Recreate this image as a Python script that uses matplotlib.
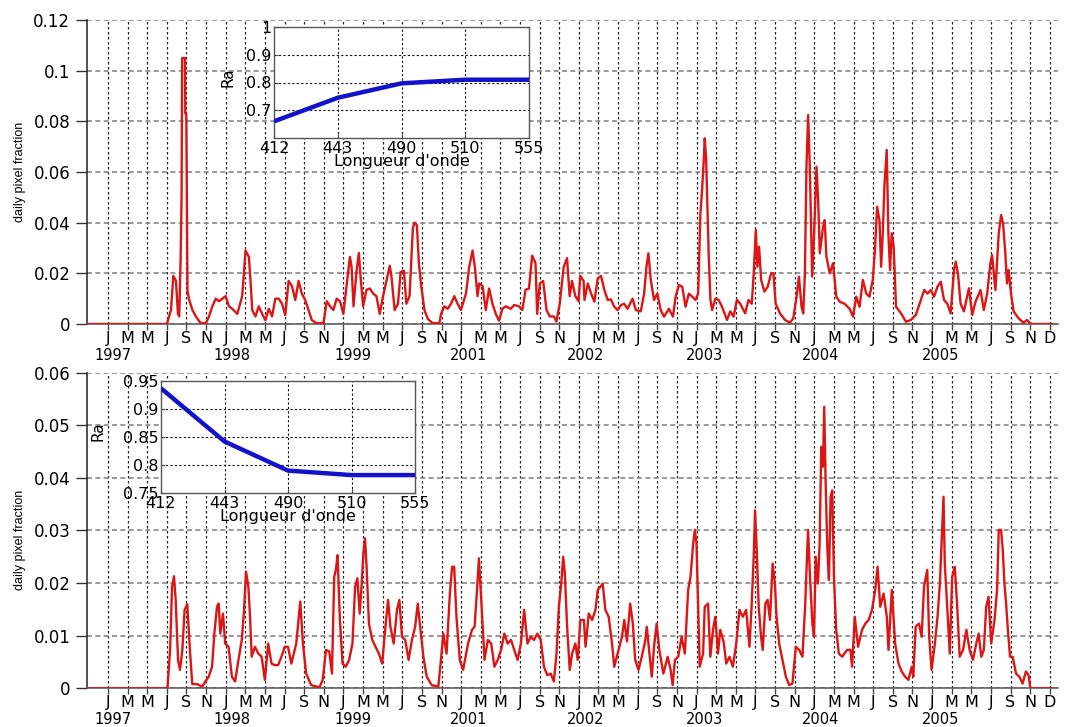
import matplotlib
matplotlib.use("Agg")
import matplotlib.pyplot as plt
from matplotlib import font_manager
from matplotlib.transforms import blended_transform_factory

# ---------------- data (months since Jan 1997) ----------------
TOP_MONTH = [-2.2, 6.0, 6.42, 6.66, 6.93, 7.13, 7.26, 7.40, 7.50, 7.56, 7.85, 7.88, 7.98, 8.02, 8.1, 8.28, 8.61, 8.95, 9.46, 9.97,
             10.30, 10.64, 10.98, 11.32, 11.66, 11.99, 12.33, 12.67, 13.18, 13.68, 14.02, 14.36, 14.53, 14.70, 15.03, 15.37, 15.71,
             16.05, 16.39, 16.72, 17.06, 17.40, 17.74, 18.07, 18.41, 18.75, 19.09, 19.43, 19.76, 20.10, 20.44, 20.78, 21.28, 21.96,
             22.30, 22.64, 22.97, 23.31, 23.65, 23.99, 24.32, 24.66, 24.83, 25.03, 25.34, 25.57, 25.78, 26.01, 26.35, 26.69, 27.03,
             27.36, 27.70, 28.04, 28.38, 28.72, 28.89, 29.22, 29.56, 29.83, 30.17, 30.41, 30.74, 31.08, 31.25, 31.49, 31.69, 31.93,
             32.26, 32.60, 33.11, 33.78, 33.95, 34.29, 34.63, 34.97, 35.30, 35.64, 35.98, 36.49, 36.82, 37.16, 37.40, 37.67, 37.84,
             38.18, 38.51, 38.85, 39.19, 39.53, 39.86, 40.20, 40.54, 41.05, 41.39, 41.89, 42.23, 42.57, 42.91, 43.24, 43.58, 43.75,
             44.02, 44.36, 44.70, 45.03, 45.44, 45.71, 46.05, 46.45, 46.79, 47.06, 47.30, 47.64, 47.97, 48.14, 48.48,
             48.57, 48.91, 49.25, 49.58, 49.92, 50.26, 50.6, 50.94, 51.27, 51.61, 51.95, 52.29, 52.62, 52.96, 53.47, 53.81, 54.31,
             54.65, 54.89, 55.09, 55.33, 55.66, 56.0, 56.34, 56.68, 57.18, 57.59, 57.86, 58.2, 58.54, 58.87, 59.21, 59.55, 59.89,
             60.16, 60.39, 60.56, 60.73, 60.83, 60.97, 61.1, 61.24, 61.41, 61.58, 61.91, 62.25, 62.59, 63.1, 63.43, 63.77, 64.11,
             64.45, 64.95, 65.29, 65.63, 65.8, 66.04, 66.2, 66.37, 66.58, 66.91, 67.25, 67.59, 67.83, 68.06, 68.5, 69.01, 69.52,
             69.85, 70.19, 70.43, 70.7, 70.87, 71.04, 71.2, 71.37, 71.54, 71.78, 71.98, 72.22, 72.39, 72.56, 72.89, 73.06, 73.23,
             73.57, 73.91, 74.24, 74.58, 75.09, 75.6, 75.94, 76.27, 76.61, 76.95, 77.29, 77.62, 77.96, 78.2, 78.4, 78.64, 78.81,
             78.98, 79.14, 79.38, 79.55, 79.72, 79.89, 80.09, 80.33, 80.84, 81.34, 81.85, 82.35, 82.86, 83.2, 83.54, 83.87, 84.21,
             84.55, 84.89, 85.22, 85.56, 85.9, 86.24, 86.41, 86.64, 86.91, 87.25, 87.76, 88.1, 88.43, 88.94, 89.28, 89.62, 89.95,
             90.12, 90.46, 90.8, 91.04, 91.24, 91.47, 91.64, 91.81, 92.05, 92.32, 92.83, 93.33, 93.67, 94.01, 94.18, 96.2]
TOP_VALUE = [0, 0, 0.0055, 0.019, 0.017, 0.004, 0.003, 0.025, 0.05, 0.105, 0.105, 0.083, 0.083, 0.063, 0.013, 0.0095, 0.0055, 0.003, 0.0003, 0.0003,
             0.003, 0.007, 0.010, 0.009, 0.010, 0.011, 0.007, 0.006, 0.004, 0.011, 0.029, 0.0265, 0.017, 0.0055, 0.003, 0.007, 0.004,
             0.0015, 0.006, 0.003, 0.010, 0.010, 0.008, 0.0035, 0.017, 0.015, 0.0095, 0.017, 0.012, 0.0095, 0.0055, 0.0015, 0.0003, 0.0003,
             0.009, 0.007, 0.0055, 0.010, 0.009, 0.004, 0.015, 0.0265, 0.0225, 0.007, 0.021, 0.028, 0.017, 0.007, 0.0135, 0.014, 0.012,
             0.011, 0.004, 0.011, 0.017, 0.023, 0.019, 0.0055, 0.008, 0.0205, 0.021, 0.008, 0.011, 0.038, 0.040, 0.039, 0.024, 0.015,
             0.0055, 0.002, 0.0003, 0.0003, 0.004, 0.007, 0.006, 0.008, 0.011, 0.008, 0.0055, 0.012, 0.0225, 0.029, 0.0225, 0.011, 0.016,
             0.015, 0.0055, 0.014, 0.008, 0.004, 0.0013, 0.006, 0.007, 0.006, 0.0075, 0.007, 0.0055, 0.0135, 0.014, 0.027, 0.024, 0.004,
             0.016, 0.017, 0.0055, 0.003, 0.003, 0.001, 0.008, 0.0225, 0.026, 0.011, 0.017, 0.011, 0.009, 0.019, 0.017,
             0.0095, 0.016, 0.012, 0.0088, 0.018, 0.019, 0.0134, 0.0095, 0.0097, 0.0068, 0.0055, 0.0075, 0.008, 0.006, 0.010, 0.0055, 0.005,
             0.012, 0.0226, 0.0279, 0.0174, 0.0095, 0.012, 0.0055, 0.0029, 0.006, 0.0029, 0.0108, 0.0154, 0.0147, 0.0068, 0.012, 0.0108, 0.0095,
             0.012, 0.0437, 0.0529, 0.0647, 0.0733, 0.0655, 0.0463, 0.0266, 0.0095, 0.0055, 0.010, 0.0095, 0.0068, 0.0016, 0.005, 0.0029, 0.0095,
             0.008, 0.0042, 0.0095, 0.008, 0.0187, 0.0371, 0.0226, 0.0305, 0.0174, 0.0128, 0.0147, 0.020, 0.020, 0.008, 0.0042, 0.0016, 0.0005,
             0.0022, 0.0108, 0.0187, 0.0068, 0.0042, 0.020, 0.0621, 0.0825, 0.0621, 0.0187, 0.0358, 0.0621, 0.049, 0.0279, 0.0384, 0.041, 0.0266,
             0.020, 0.024, 0.0108, 0.0088, 0.008, 0.006, 0.0029, 0.0108, 0.0068, 0.0174, 0.012, 0.0108, 0.0174, 0.0305, 0.0463, 0.041, 0.0226,
             0.0358, 0.0542, 0.0687, 0.0358, 0.0213, 0.0358, 0.0305, 0.0068, 0.0042, 0.0009, 0.0016, 0.0036, 0.0095, 0.0134, 0.012, 0.0134, 0.0108,
             0.0147, 0.0167, 0.0095, 0.008, 0.0042, 0.0213, 0.0246, 0.020, 0.008, 0.005, 0.0141, 0.0036, 0.0088, 0.0134, 0.0055, 0.012, 0.024,
             0.0272, 0.0134, 0.0358, 0.043, 0.0397, 0.0279, 0.016, 0.0213, 0.012, 0.005, 0.0022, 0.0005, 0.0016, 0.0003, 0, 0]

BOT_MONTH = [-2.2, 6.06, 6.33, 6.53, 6.73, 6.9, 7.14, 7.34, 7.58, 7.81, 8.08, 8.35, 8.59, 9.09, 9.6, 9.93, 10.27, 10.61, 10.84, 11.11,
             11.28, 11.45, 11.72, 11.95, 12.29, 12.63, 12.96, 13.3, 13.64, 13.87, 14.07, 14.31, 14.48, 14.65, 14.98, 15.32, 15.66, 15.99,
             16.33, 16.67, 17.0, 17.34, 17.68, 18.01, 18.35, 18.69, 19.19, 19.6, 19.87, 20.2, 20.71, 21.55, 21.89, 22.22, 22.56, 22.83,
             23.06, 23.23, 23.4, 23.64, 23.91, 24.24, 24.58, 24.92, 25.19, 25.42, 25.66, 25.86, 26.03, 26.2, 26.36, 26.6, 26.94, 27.27,
             27.61, 27.95, 28.28, 28.55, 28.79, 29.12, 29.46, 29.7, 29.97, 30.3, 30.64, 30.98, 31.31, 31.58, 31.82, 32.15, 32.49, 33.0,
             33.67, 33.94, 34.18, 34.51, 34.85, 35.08, 35.29, 35.52, 35.86, 36.2, 36.7, 37.1, 37.37, 37.64, 37.81, 38.05, 38.38, 38.72,
             39.06, 39.39, 39.73, 40.07, 40.4, 40.74, 41.08, 41.41, 41.75, 42.09, 42.42, 42.76, 43.1, 43.43, 43.77, 44.11, 44.44, 44.78,
             45.12, 45.45, 45.72, 45.96, 46.2, 46.4, 46.57, 46.8, 47.07, 47.31, 47.64, 47.88, 48.15,
             48.51, 48.68, 49.01, 49.35, 49.69, 49.93, 50.2, 50.43, 50.7, 51.04, 51.38, 51.61, 52.05, 52.39, 52.63, 52.9, 53.23, 53.5,
             53.74, 54.08, 54.41, 54.75, 54.92, 55.19, 55.43, 55.66, 55.93, 56.2, 56.61, 57.05, 57.35, 57.56, 57.79, 58.13, 58.47, 58.8,
             59.14, 59.38, 59.65, 59.82, 59.99, 60.15, 60.32, 60.66, 60.83, 61.17, 61.4, 61.67, 61.91, 62.18, 62.41, 62.75, 63.02, 63.36,
             63.7, 64.04, 64.37, 64.71, 65.05, 65.39, 65.62, 65.82, 65.96, 66.13, 66.33, 66.57, 66.74, 67.01, 67.24, 67.48, 67.75, 67.98,
             68.15, 68.42, 68.76, 69.1, 69.44, 69.77, 70.11, 70.45, 70.79, 71.06, 71.36, 71.56, 71.8, 71.97, 72.14, 72.37, 72.54, 72.71,
             72.88, 73.01, 73.15, 73.32, 73.49, 73.66, 73.83, 74.0, 74.23, 74.5, 74.84, 75.34, 75.68, 75.85, 76.12, 76.46, 76.86, 77.2,
             77.54, 77.88, 78.21, 78.45, 78.72, 79.06, 79.39, 79.56, 79.9, 80.24, 80.58, 80.91, 81.25, 81.59, 81.93, 82.09, 82.33, 82.67,
             82.94, 83.18, 83.51, 83.71, 83.95, 84.29, 84.56, 84.8, 85.03, 85.17, 85.3, 85.54, 85.81, 86.05, 86.32, 86.55, 86.82, 87.16,
             87.5, 87.83, 88.17, 88.51, 88.75, 89.02, 89.28, 89.52, 89.76, 90.03, 90.37, 90.63, 90.8, 91.04, 91.21, 91.38, 91.55, 91.71,
             91.95, 92.22, 92.56, 92.9, 93.23, 93.57, 93.84, 94.01, 94.05, 96.2]
BOT_VALUE = [0, 0, 0.0073, 0.0193, 0.0213, 0.0168, 0.0054, 0.0035, 0.0073, 0.0149, 0.016, 0.0073, 0.0008, 0.0008, 0.0003, 0.0013, 0.0022, 0.0041, 0.0104, 0.0155,
             0.0161, 0.0104, 0.0142, 0.0085, 0.0079, 0.0022, 0.0013, 0.0054, 0.0092, 0.0149, 0.0222, 0.0193, 0.0136, 0.006, 0.0079, 0.0066, 0.006, 0.0016,
             0.0085, 0.0047, 0.0044, 0.0044, 0.006, 0.0079, 0.0079, 0.0047, 0.0085, 0.0165, 0.0085, 0.0028, 0.0006, 0.0002, 0.0016, 0.0073, 0.007, 0.0028,
             0.0212, 0.0225, 0.0253, 0.013, 0.0047, 0.0041, 0.0054, 0.0085, 0.0193, 0.0209, 0.0142, 0.0199, 0.0256, 0.0285, 0.0231, 0.0123, 0.0092, 0.0079,
             0.0066, 0.0047, 0.0117, 0.0168, 0.0117, 0.0085, 0.0149, 0.0168, 0.0098, 0.0092, 0.0054, 0.0092, 0.0117, 0.0161, 0.0117, 0.006, 0.0022, 0.0006,
             0.0003, 0.0054, 0.0104, 0.0066, 0.018, 0.0231, 0.0231, 0.0136, 0.0054, 0.0035, 0.0085, 0.0111, 0.0117, 0.0193, 0.0247, 0.0168, 0.0054, 0.0092,
             0.0085, 0.0041, 0.0054, 0.0073, 0.0104, 0.0085, 0.0092, 0.0073, 0.0054, 0.0085, 0.0149, 0.0085, 0.0098, 0.0092, 0.0104, 0.0092, 0.0041, 0.0025,
             0.0028, 0.0013, 0.0066, 0.0155, 0.0199, 0.025, 0.0218, 0.0117, 0.0035, 0.0066, 0.0085, 0.0054, 0.013,
             0.013, 0.0079, 0.0142, 0.013, 0.0149, 0.0187, 0.0193, 0.0199, 0.0149, 0.0136, 0.0085, 0.0041, 0.0073, 0.0098, 0.013, 0.0089, 0.0161, 0.0123,
             0.0054, 0.0035, 0.006, 0.0089, 0.0117, 0.0066, 0.0022, 0.0079, 0.0123, 0.0073, 0.0028, 0.006, 0.0035, 0.0006, 0.0054, 0.006, 0.0098, 0.0066,
             0.0187, 0.0212, 0.0275, 0.0301, 0.0275, 0.0161, 0.0041, 0.0066, 0.0155, 0.0161, 0.006, 0.0111, 0.0136, 0.0066, 0.0111, 0.0089, 0.0047, 0.006,
             0.0041, 0.0085, 0.0149, 0.0136, 0.0149, 0.0079, 0.0161, 0.025, 0.0338, 0.0263, 0.0155, 0.0098, 0.0073, 0.0161, 0.0168, 0.013, 0.0237, 0.0199,
             0.0136, 0.0085, 0.0054, 0.0022, 0.0006, 0.0009, 0.0079, 0.0073, 0.006, 0.0155, 0.0301, 0.0212, 0.0123, 0.0098, 0.025, 0.0199, 0.0275, 0.0459,
             0.0421, 0.0535, 0.0395, 0.0269, 0.0206, 0.0364, 0.0376, 0.0212, 0.0111, 0.0066, 0.006, 0.0073, 0.0073, 0.0041, 0.0136, 0.0079, 0.0111, 0.0123,
             0.013, 0.0149, 0.0187, 0.0231, 0.0155, 0.018, 0.0136, 0.0073, 0.0187, 0.0085, 0.0047, 0.0032, 0.0022, 0.0016, 0.0041, 0.0022, 0.0117, 0.0123,
             0.0098, 0.0193, 0.0225, 0.0098, 0.0035, 0.0085, 0.0136, 0.0199, 0.0301, 0.0364, 0.0237, 0.0155, 0.0066, 0.0212, 0.0231, 0.0161, 0.006, 0.0073,
             0.0111, 0.0073, 0.0054, 0.0085, 0.0104, 0.006, 0.0073, 0.0155, 0.0174, 0.0085, 0.013, 0.0187, 0.0301, 0.0301, 0.0263, 0.0199, 0.0161, 0.0117,
             0.006, 0.006, 0.0028, 0.0022, 0.0009, 0.0032, 0.0025, 0.0001, 0, 0]

MONTH_TICKS = list(range(0, 97, 2))
MONTH_LABELS = ["J", "M", "M", "J", "S", "N"] * 8 + ["D"]
YEAR_LABELS = ["1997", "1998", "1999", "2001", "2002", "2003", "2004", "2005"]
YEAR_POS = [0.5, 12.6, 25.0, 36.8, 48.7, 60.8, 72.6, 84.9]

TOP_YTICKS = [0, 0.02, 0.04, 0.06, 0.08, 0.1, 0.12]
TOP_YLABELS = ["0", "0.02", "0.04", "0.06", "0.08", "0.1", "0.12"]
BOT_YTICKS = [0, 0.01, 0.02, 0.03, 0.04, 0.05, 0.06]
BOT_YLABELS = ["0", "0.01", "0.02", "0.03", "0.04", "0.05", "0.06"]

WAVELENGTHS = ["412", "443", "490", "510", "555"]
RA_TOP = [0.66, 0.745, 0.797, 0.81, 0.81]
RA_BOT = [0.937, 0.842, 0.79, 0.782, 0.782]

# ---------------- style ----------------
names = {f.name for f in font_manager.fontManager.ttflist}
if "Liberation Sans Narrow" in names:
    YLAB_FONT, YLAB_SIZE = "Liberation Sans Narrow", 10.5
else:
    YLAB_FONT, YLAB_SIZE = "Liberation Sans", 9
plt.rcParams["font.family"] = ["DejaVu Sans"]

RED = "#dd1515"
BLUE = "#1212cc"
W, H = 1065, 727

fig = plt.figure(figsize=(W / 100, H / 100), dpi=100)


def frac(left, top, right, bottom):
    return [left / W, 1 - bottom / H, (right - left) / W, (bottom - top) / H]


def main_axes(rect, months, values, yticks, ylabels, ymax, ylab_y):
    ax = fig.add_axes(rect)
    ax.plot(months, values, color=RED, lw=1.7, zorder=3)
    ax.set_xlim(-2.14, 96.84)
    ax.set_ylim(0, ymax)
    ax.set_xticks(MONTH_TICKS)
    ax.set_xticklabels(MONTH_LABELS, fontsize=11.5)
    ax.set_yticks(yticks)
    ax.set_yticklabels(ylabels, fontsize=12)
    ax.tick_params(axis="x", direction="out", length=4, width=1, color="#444", pad=1)
    ax.tick_params(axis="y", direction="out", length=8, width=1, color="#333", pad=4)
    for s in ["top", "right"]:
        ax.spines[s].set_visible(False)
    ax.spines["left"].set_color("#222")
    ax.spines["left"].set_linewidth(1.1)
    ax.spines["bottom"].set_color("#555")
    ax.spines["bottom"].set_linewidth(1.1)
    ax.xaxis.grid(True, linestyle=(0, (2, 2)), color="#222", lw=0.9)
    ax.yaxis.grid(True, linestyle=(0, (3, 2)), color="#888", lw=1.2)
    ax.set_axisbelow(True)
    tr = blended_transform_factory(ax.transData, ax.transAxes)
    for lab, pos in zip(YEAR_LABELS, YEAR_POS):
        ax.annotate(lab, xy=(pos, 0), xycoords=tr, xytext=(0, -26), textcoords="offset points",
                    ha="center", va="baseline", fontsize=10.5)
    fig.text(20 / W, 1 - ylab_y / H, "daily pixel fraction", rotation=90, ha="center", va="center",
             fontsize=YLAB_SIZE, family=YLAB_FONT)
    return ax


def inset(rect, values, ylim, yticks, ylabels, ygrid, ra_x):
    ax = fig.add_axes(rect)
    ax.set_facecolor("white")
    xs = list(range(len(WAVELENGTHS)))
    ax.plot(xs, values, color=BLUE, lw=3.2, zorder=3, solid_capstyle="butt")
    ax.set_xlim(0, len(WAVELENGTHS) - 1)
    ax.set_ylim(*ylim)
    ax.set_xticks(xs)
    ax.set_xticklabels(WAVELENGTHS, fontsize=11.5)
    ax.set_yticks(yticks)
    ax.set_yticklabels(ylabels, fontsize=11.5)
    ax.tick_params(direction="in", length=3, width=0.8, color="#444", pad=2)
    for s in ax.spines.values():
        s.set_color("#555")
        s.set_linewidth(1.0)
    for x in xs[1:-1]:
        ax.axvline(x, color="#111", lw=0.8, linestyle=(0, (2, 2)), zorder=1)
    for y in ygrid:
        ax.axhline(y, color="#111", lw=0.8, linestyle=(0, (2, 2)), zorder=1)
    ax.set_xlabel("Longueur d'onde", fontsize=11.5, labelpad=-1)
    ax.set_ylabel("Ra", fontsize=11)
    ax.yaxis.set_label_coords(ra_x, 0.55)
    return ax


ax1 = main_axes(frac(87, 20, 1058, 324), TOP_MONTH, TOP_VALUE, TOP_YTICKS, TOP_YLABELS, 0.12, 172)
ax2 = main_axes(frac(87, 372.6, 1058, 688.3), BOT_MONTH, BOT_VALUE, BOT_YTICKS, BOT_YLABELS, 0.06, 540)

inset(frac(274, 27, 529, 138), RA_TOP, (0.6, 1.0), [0.7, 0.8, 0.9, 1.0], ["0.7", "0.8", "0.9", "1"],
      [0.7, 0.8, 0.9], -0.15)
inset(frac(161, 381, 415, 493), RA_BOT, (0.75, 0.95), [0.75, 0.8, 0.85, 0.9, 0.95],
      ["0.75", "0.8", "0.85", "0.9", "0.95"], [0.8, 0.85, 0.9], -0.22)

fig.savefig("out.png", dpi=100)
